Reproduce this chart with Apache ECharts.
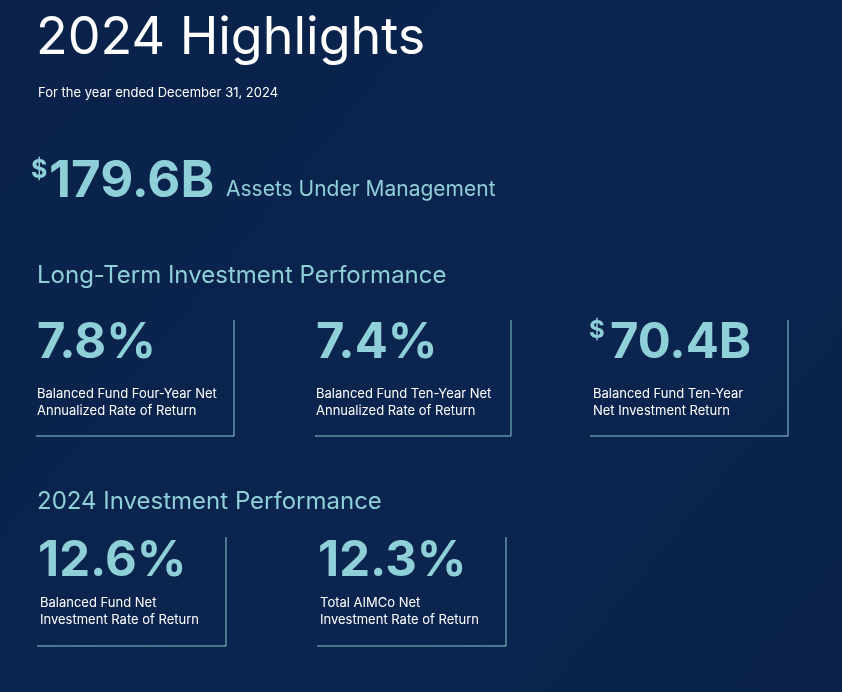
<!DOCTYPE html>
<html style="height:100%">
<head>
    <meta charset="utf-8">
    <title>2024 Highlights</title>
    <script src="https://cdn.jsdelivr.net/npm/echarts@6/dist/echarts.min.js"></script>
</head>
<body style="height:100%;margin:0">
    <div id="main" style="width:842px;height:692px;"></div>
    <script type="text/javascript">
        var myChart = echarts.init(document.getElementById('main'));

        var titleText = '2024 Highlights';
        var subTitleText = 'For the year ended December 31, 2024';
        var aumValue = '179.6B';
        var aumLabel = 'Assets Under Management';
        var sections = ['Long-Term Investment Performance', '2024 Investment Performance'];
        var row1Values = ['7.8%', '7.4%', '70.4B'];
        var row1Prefix = ['', '', '$'];
        var row1Labels = [
            ['Balanced Fund Four-Year Net', 'Annualized Rate of Return'],
            ['Balanced Fund Ten-Year Net', 'Annualized Rate of Return'],
            ['Balanced Fund Ten-Year', 'Net Investment Return']
        ];
        var row2Values = ['12.6%', '12.3%'];
        var row2Labels = [
            ['Balanced Fund Net', 'Investment Rate of Return'],
            ['Total AIMCo Net', 'Investment Rate of Return']
        ];

        var accent = '#8fcfd8';
        var font = 'Inter, "Noto Sans", sans-serif';
        var els = [];

        function txt(x, y, s, size, color, weight) {
            els.push({
                type: 'text', x: x, y: y,
                style: { text: s, fill: color, font: (weight || 400) + ' ' + size + 'px ' + font, textVerticalAlign: 'middle' }
            });
        }
        function line(x1, y1, x2, y2) {
            els.push({ type: 'line', shape: { x1: x1, y1: y1, x2: x2, y2: y2 }, style: { stroke: '#8cc8d2', lineWidth: 1 } });
        }

        txt(36, 38, titleText, 52, '#ffffff', 400);
        txt(38, 93, subTitleText, 13, '#ffffff');
        txt(31, 170, '$', 25, accent, 700);
        txt(49, 182, aumValue, 51, accent, 700);
        txt(226, 190, aumLabel, 21, accent);

        txt(37, 276, sections[0], 24, accent);
        var row1X = [37, 316, 591];
        var row1Right = [234, 511, 788];
        row1Values.forEach(function (v, i) {
            var x = row1X[i];
            if (row1Prefix[i]) {
                txt(x - 2, 331, row1Prefix[i], 24, accent, 700);
                x += 19;
            }
            txt(x, 343, v, 49, accent, 700);
            txt(row1X[i] + (row1Prefix[i] ? 2 : 0), 394, row1Labels[i][0], 13, '#ffffff');
            txt(row1X[i] + (row1Prefix[i] ? 2 : 0), 411, row1Labels[i][1], 13, '#ffffff');
            line(row1Right[i], 320, row1Right[i], 436);
            line(row1X[i] - 1, 436, row1Right[i], 436);
        });

        txt(37, 502, sections[1], 24, accent);
        var row2X = [40, 320];
        var row2Right = [226, 506];
        row2Values.forEach(function (v, i) {
            txt(row2X[i] - 2, 561, v, 49, accent, 700);
            txt(row2X[i], 603, row2Labels[i][0], 13, '#ffffff');
            txt(row2X[i], 620, row2Labels[i][1], 13, '#ffffff');
            line(row2Right[i], 537, row2Right[i], 646);
            line(row2X[i] - 3, 646, row2Right[i], 646);
        });

        var option = {
            backgroundColor: new echarts.graphic.LinearGradient(0, 0, 1, 1, [
                { offset: 0, color: '#0a2249' },
                { offset: 0.6, color: '#0b2550' },
                { offset: 1, color: '#0a2248' }
            ]),
            graphic: { elements: els }
        };
        myChart.setOption(option);
    </script>
</body>
</html>
